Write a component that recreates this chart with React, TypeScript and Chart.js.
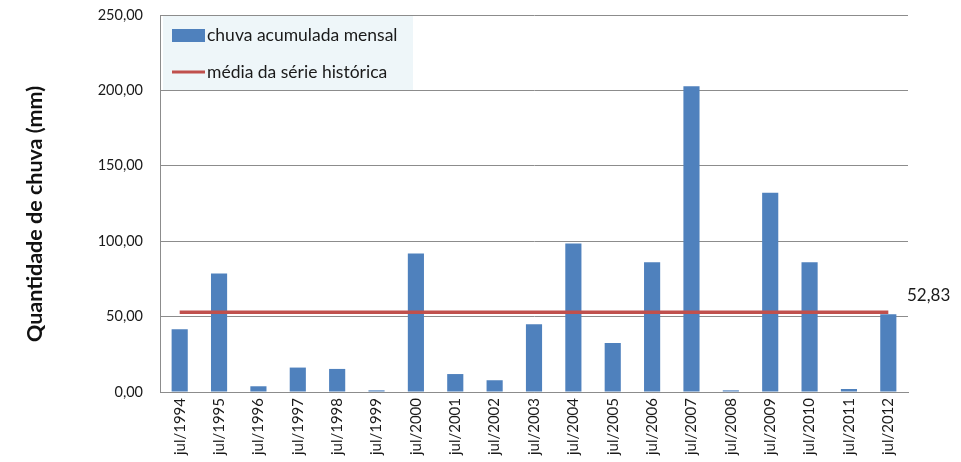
import React, { useEffect, useRef } from "react";
import { Chart, registerables } from "chart.js";

Chart.register(...registerables);

const categories = [
  "jul/1994", "jul/1995", "jul/1996", "jul/1997", "jul/1998", "jul/1999", "jul/2000",
  "jul/2001", "jul/2002", "jul/2003", "jul/2004", "jul/2005", "jul/2006", "jul/2007",
  "jul/2008", "jul/2009", "jul/2010", "jul/2011", "jul/2012",
];

const chuvaMensal = [
  41.6, 78.5, 3.8, 16.2, 15.3, 1.1, 91.8, 11.9, 7.8, 44.9, 98.4, 32.5, 86.0, 202.7, 1.1,
  132.2, 86.0, 2.0, 51.5,
];

const mediaValor = 52.83;
const mediaSerie = [
  52.83, 52.83, 52.83, 52.83, 52.83, 52.83, 52.83, 52.83, 52.83, 52.83, 52.83, 52.83,
  52.83, 52.83, 52.83, 52.83, 52.83, 52.83, 52.83,
];

const yTicks = [0, 50, 100, 150, 200, 250];

const serieBarLabel = "chuva acumulada mensal";
const serieLinhaLabel = "média da série histórica";
const yTitle = "Quantidade de chuva (mm)";

const FONT = "Lato, 'Open Sans', sans-serif";
const BAR_COLOR = "#4F81BD";
const LINE_COLOR = "#C0504D";

const fmt = (v: number) => v.toFixed(2).replace(".", ",");

const overlayPlugin = {
  id: "overlay",
  afterDraw(chart: any) {
    const ctx = chart.ctx as CanvasRenderingContext2D;
    const area = chart.chartArea;
    const y = chart.scales.y;
    ctx.save();
    // legend box
    const lx = area.left + 3;
    const ly = area.top + 1;
    ctx.fillStyle = "#EEF6F9";
    ctx.fillRect(lx, ly, 250, 74);
    ctx.fillStyle = BAR_COLOR;
    ctx.fillRect(lx + 9, ly + 13, 33, 13);
    ctx.strokeStyle = LINE_COLOR;
    ctx.lineWidth = 3;
    ctx.beginPath();
    ctx.moveTo(lx + 9, ly + 56);
    ctx.lineTo(lx + 42, ly + 56);
    ctx.stroke();
    ctx.fillStyle = "#1a1a1a";
    ctx.font = `17.5px ${FONT}`;
    ctx.textBaseline = "middle";
    ctx.textAlign = "left";
    ctx.fillText(serieBarLabel, lx + 44, ly + 19);
    ctx.fillText(serieLinhaLabel, lx + 44, ly + 56);
    // mean label
    const my = y.getPixelForValue(mediaValor);
    ctx.font = `17px ${FONT}`;
    ctx.fillText(fmt(mediaValor), area.right - 1, my - 17);
    // y title
    ctx.translate(35, 214);
    ctx.rotate(-Math.PI / 2);
    ctx.textAlign = "center";
    ctx.font = `bold 21.5px ${FONT}`;
    ctx.fillStyle = "#111";
    ctx.fillText(yTitle, 0, 0);
    ctx.restore();
  },
};

export default function App() {
  const ref = useRef<HTMLCanvasElement | null>(null);
  useEffect(() => {
    if (!ref.current) return;
    const chart = new Chart(ref.current, {
      type: "bar",
      data: {
        labels: categories,
        datasets: [
          {
            type: "line",
            label: serieLinhaLabel,
            data: mediaSerie,
            borderColor: LINE_COLOR,
            backgroundColor: LINE_COLOR,
            borderWidth: 3.5,
            pointRadius: 0,
            order: 0,
          } as any,
          {
            type: "bar",
            label: serieBarLabel,
            data: chuvaMensal,
            backgroundColor: BAR_COLOR,
            borderWidth: 0,
            categoryPercentage: 1,
            barPercentage: 0.41,
            order: 1,
          },
        ],
      },
      options: {
        animation: false,
        responsive: false,
        maintainAspectRatio: false,
        layout: { padding: { left: 0, right: 53, top: 15, bottom: 0 } },
        plugins: { legend: { display: false }, tooltip: { enabled: false } },
        scales: {
          x: {
            grid: { display: false, drawTicks: false },
            border: { display: true, color: "#8C8C8C", width: 1 },
            ticks: {
              minRotation: 90,
              maxRotation: 90,
              padding: 6,
              color: "#1a1a1a",
              font: { family: FONT, size: 15 },
              autoSkip: false,
            },
            afterFit: (s: any) => {
              s.height = 70;
              s.paddingLeft = 0;
              s.paddingRight = 0;
            },
          },
          y: {
            min: 0,
            max: 250,
            afterBuildTicks: (s: any) => {
              s.ticks = yTicks.map((v) => ({ value: v }));
            },
            grid: { color: "#8C8C8C", lineWidth: 1, drawTicks: false },
            border: { display: true, color: "#8C8C8C", width: 1 },
            ticks: {
              padding: 17,
              color: "#1a1a1a",
              font: { family: FONT, size: 14.5 },
              callback: (v: any) => fmt(Number(v)),
            },
            afterFit: (s: any) => {
              s.width = 160;
              s.paddingTop = 0;
              s.paddingBottom = 0;
            },
          },
        },
      },
      plugins: [overlayPlugin],
    });
    return () => chart.destroy();
  }, []);
  return (
    <div style={{ position: "fixed", left: 0, top: 0, width: 961, height: 462, background: "#fff" }}>
      <canvas ref={ref} width={961} height={462} style={{ width: 961, height: 462 }} />
    </div>
  );
}
